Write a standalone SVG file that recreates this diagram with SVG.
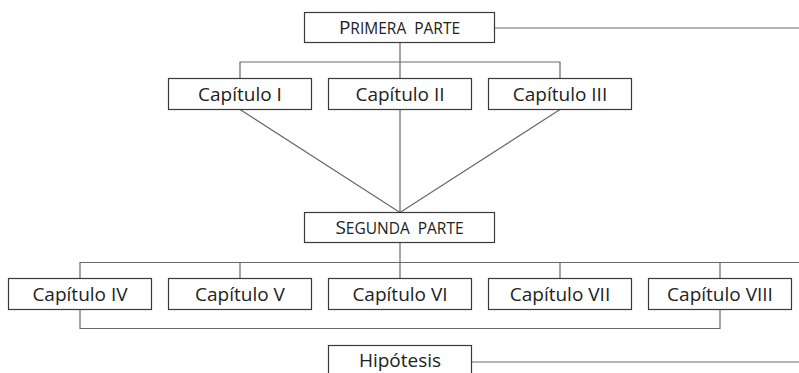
<svg xmlns="http://www.w3.org/2000/svg" width="799" height="373" viewBox="0 0 799 373">
<style>
.box{fill:#fff;stroke:#3a3a3a;stroke-width:1.2}
.ln{fill:none;stroke:#6a6a6a;stroke-width:1.2}
.t{font-family:"Open Sans","DejaVu Sans",sans-serif;font-size:19px;fill:#222;text-anchor:middle}
.sc{font-size:15.5px}
</style>
<rect width="799" height="373" fill="#fff"/>
<g id="connectors">
<path class="ln" d="M494.5 28H799M400 42.5V62M240 78.5V62H560V78.5M400 62V78.5"/>
<path class="ln" d="M240 109.5L400 212.5M400 109.5V212.5M560 109.5L400 212.5"/>
<path class="ln" d="M400 242.5V278.5M80 278.5V262.5H799M240 262.5V278.5M560 262.5V278.5M720 262.5V278.5"/>
<path class="ln" d="M80 309.5V328.5H720V309.5"/>
<path class="ln" d="M471.5 362H799"/>
</g>
<g id="primera"><rect class="box" x="304.5" y="12.5" width="190" height="30"/><text class="t" x="399.5" y="34.3">P<tspan class="sc">RIMERA</tspan><tspan class="sc" dx="4"> PARTE</tspan></text></g>
<g id="cap1"><rect class="box" x="168.5" y="78.5" width="143" height="31"/><text class="t" x="240" y="100.7">Capítulo I</text></g>
<g id="cap2"><rect class="box" x="328.5" y="78.5" width="143" height="31"/><text class="t" x="400" y="100.7">Capítulo II</text></g>
<g id="cap3"><rect class="box" x="488.5" y="78.5" width="143" height="31"/><text class="t" x="560" y="100.7">Capítulo III</text></g>
<g id="segunda"><rect class="box" x="304.5" y="212.5" width="190" height="30"/><text class="t" x="399.5" y="234.3">S<tspan class="sc">EGUNDA</tspan><tspan class="sc" dx="4"> PARTE</tspan></text></g>
<g id="cap4"><rect class="box" x="8.5" y="278.5" width="143" height="31"/><text class="t" x="80" y="300.7">Capítulo IV</text></g>
<g id="cap5"><rect class="box" x="168.5" y="278.5" width="143" height="31"/><text class="t" x="240" y="300.7">Capítulo V</text></g>
<g id="cap6"><rect class="box" x="328.5" y="278.5" width="143" height="31"/><text class="t" x="400" y="300.7">Capítulo VI</text></g>
<g id="cap7"><rect class="box" x="488.5" y="278.5" width="143" height="31"/><text class="t" x="560" y="300.7">Capítulo VII</text></g>
<g id="cap8"><rect class="box" x="648.5" y="278.5" width="143" height="31"/><text class="t" x="720" y="300.7">Capítulo VIII</text></g>
<g id="hipotesis"><rect class="box" x="328.5" y="345.5" width="143" height="40"/><text class="t" x="400" y="366.5">Hipótesis</text></g>
</svg>
